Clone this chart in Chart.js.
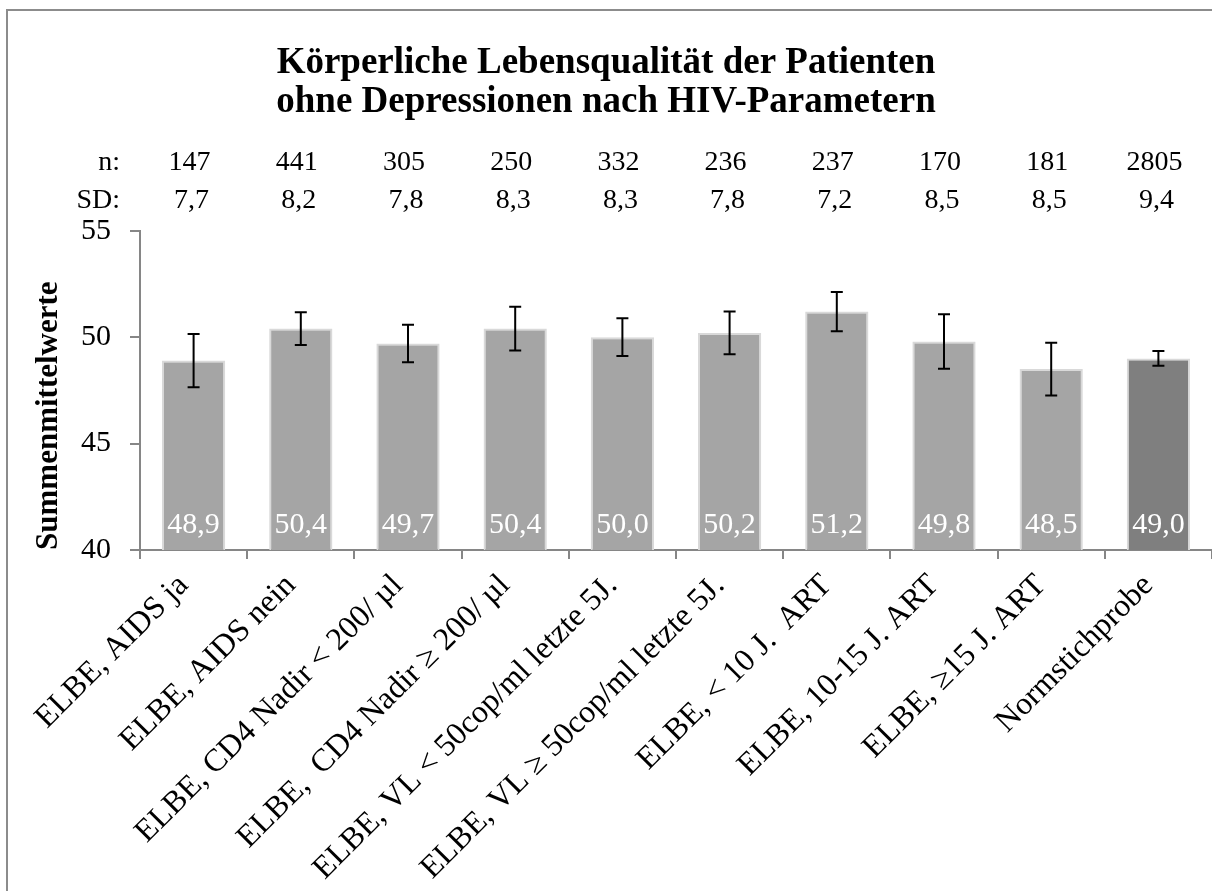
<!DOCTYPE html>
<html>
<head>
<meta charset="utf-8">
<script src="https://cdn.jsdelivr.net/npm/chart.js@4/dist/chart.umd.min.js"></script>
<style>
  html, body { margin: 0; padding: 0; overflow: hidden; background: #fff; }
  #wrap { position: relative; width: 1212px; height: 891px; }
  #frame { position: absolute; left: 6px; top: 9px; width: 1400px; height: 1100px; border: 2px solid #8c8c8c; pointer-events: none; }
  canvas { position: absolute; left: 0; top: 0; }
</style>
</head>
<body>
<div id="wrap">
  <canvas id="chart" width="1212" height="891"></canvas>
  <div id="frame"></div>
</div>
<script>
const categories = [
  'ELBE, AIDS ja',
  'ELBE, AIDS nein',
  'ELBE, CD4 Nadir < 200/ µl',
  'ELBE,  CD4 Nadir ≥ 200/ µl',
  'ELBE, VL < 50cop/ml letzte 5J.',
  'ELBE, VL ≥ 50cop/ml letzte 5J.',
  'ELBE, < 10 J.  ART',
  'ELBE, 10-15 J. ART',
  'ELBE, ≥15 J. ART',
  'Normstichprobe'
];
const means = [48.9, 50.4, 49.7, 50.4, 50.0, 50.2, 51.2, 49.8, 48.5, 49.0];
const errors = [1.25, 0.77, 0.88, 1.03, 0.89, 1.0, 0.92, 1.28, 1.24, 0.35];
const nValues = ['147', '441', '305', '250', '332', '236', '237', '170', '181', '2805'];
const sdValues = ['7,7', '8,2', '7,8', '8,3', '8,3', '7,8', '7,2', '8,5', '8,5', '9,4'];
const yTicks = [40, 45, 50, 55];

const barColors = means.map((v, i) => i === means.length - 1 ? '#7f7f7f' : '#a5a5a5');
const serif = '"Liberation Serif", "Times New Roman", serif';
Chart.defaults.font.family = serif;
Chart.defaults.color = '#000';

const fmt = v => v.toFixed(1).replace('.', ',');

// error bars (95% CI) on top of each bar
const errorBars = {
  id: 'errorBars',
  afterDatasetsDraw(chart) {
    const ctx = chart.ctx;
    const y = chart.scales.y;
    const meta = chart.getDatasetMeta(0);
    ctx.save();
    ctx.strokeStyle = '#000';
    ctx.lineWidth = 2;
    meta.data.forEach((bar, i) => {
      const top = y.getPixelForValue(means[i] + errors[i]);
      const bot = y.getPixelForValue(means[i] - errors[i]);
      ctx.beginPath();
      ctx.moveTo(bar.x, top); ctx.lineTo(bar.x, bot);
      ctx.moveTo(bar.x - 6, top); ctx.lineTo(bar.x + 6, top);
      ctx.moveTo(bar.x - 6, bot); ctx.lineTo(bar.x + 6, bot);
      ctx.stroke();
    });
    ctx.restore();
  }
};

// white values at the foot of each bar, n and SD rows above the plot
const annotations = {
  id: 'annotations',
  afterDatasetsDraw(chart) {
    const ctx = chart.ctx;
    const area = chart.chartArea;
    const meta = chart.getDatasetMeta(0);
    ctx.save();
    ctx.textAlign = 'center';
    ctx.textBaseline = 'alphabetic';
    ctx.fillStyle = '#fff';
    ctx.font = '30px ' + serif;
    meta.data.forEach((bar, i) => {
      ctx.fillText(fmt(means[i]), bar.x, area.bottom - 17);
    });
    ctx.fillStyle = '#000';
    ctx.font = '28px ' + serif;
    const row1 = area.top - 61;
    const row2 = area.top - 23;
    meta.data.forEach((bar, i) => {
      ctx.fillText(nValues[i], bar.x - 4, row1);
      ctx.fillText(sdValues[i], bar.x - 2, row2);
    });
    ctx.textAlign = 'right';
    ctx.fillText('n:', 120, row1);
    ctx.fillText('SD:', 120, row2);
    ctx.restore();
  }
};

new Chart(document.getElementById('chart'), {
  type: 'bar',
  data: {
    labels: categories,
    datasets: [{
      data: means,
      backgroundColor: barColors,
      borderColor: '#d9d9d9',
      borderWidth: 2,
      borderSkipped: false,
      categoryPercentage: 1,
      barPercentage: 0.59
    }]
  },
  options: {
    responsive: false,
    animation: false,
    layout: { padding: { left: 0, right: 0, top: 0, bottom: 0 } },
    plugins: {
      legend: { display: false },
      tooltip: { enabled: false },
      title: {
        display: true,
        text: ['Körperliche Lebensqualität der Patienten', 'ohne Depressionen nach HIV-Parametern'],
        font: { size: 37, weight: 'bold', lineHeight: 1.05 },
        color: '#000',
        padding: { top: 44, bottom: 109 }
      }
    },
    scales: {
      x: {
        grid: { display: true, drawOnChartArea: false, tickLength: 9, color: '#868686', lineWidth: 2 },
        border: { color: '#868686', width: 2 },
        ticks: { autoSkip: false, maxRotation: 45, minRotation: 45, padding: 8, labelOffset: -10, font: { size: 32 }, color: '#000' },
        afterFit: s => { s.height = 341; }
      },
      y: {
        min: 40,
        max: 55,
        afterBuildTicks: s => { s.ticks = yTicks.map(v => ({ value: v })); },
        grid: { display: true, drawOnChartArea: false, tickLength: 10, color: '#868686', lineWidth: 2 },
        border: { color: '#868686', width: 2 },
        ticks: { padding: 19, font: { size: 30 }, color: '#000' },
        title: { display: true, text: 'Summenmittelwerte', align: 'start', font: { size: 31, weight: 'bold' }, color: '#000', padding: { top: 30, bottom: 0 } },
        afterFit: s => { s.width = 140; }
      }
    }
  },
  plugins: [errorBars, annotations]
});
</script>
</body>
</html>
